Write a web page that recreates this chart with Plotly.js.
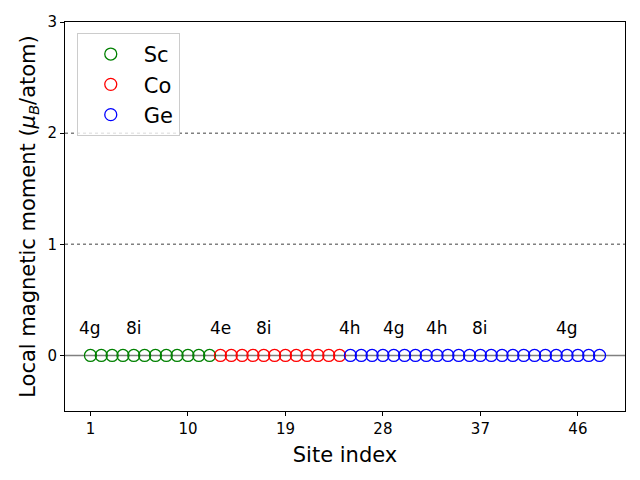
<!DOCTYPE html>
<html>
<head>
<meta charset="utf-8">
<script src="https://cdn.plot.ly/plotly-3.0.1.min.js"></script>
<style>html,body{margin:0;padding:0;background:#fff;}#chart{width:640px;height:480px;}</style>
</head>
<body>
<div id="chart"></div>
<script>
// Data
const scSites = [1,2,3,4,5,6,7,8,9,10,11,12];
const scMoments = [0,0,0,0,0,0,0,0,0,0,0,0];
const coSites = [13,14,15,16,17,18,19,20,21,22,23,24];
const coMoments = [0,0,0,0,0,0,0,0,0,0,0,0];
const geSites = [25,26,27,28,29,30,31,32,33,34,35,36,37,38,39,40,41,42,43,44,45,46,47,48];
const geMoments = [0,0,0,0,0,0,0,0,0,0,0,0,0,0,0,0,0,0,0,0,0,0,0,0];
const wyckoffSites = [1,5,13,17,25,29,33,37,45];
const wyckoffLabels = ["4g","8i","4e","8i","4h","4g","4h","8i","4g"];
const labelY = 0.2;
const refLines = [1,2];
const xTicks = [1,10,19,28,37,46];
const yTicks = [0,1,2,3];

const font = "DejaVu Sans, sans-serif";
function mk(name, x, y, color){
  return {type:'scatter', mode:'markers', name:name, x:x, y:y,
    marker:{symbol:'circle-open', size:12, color:color, line:{width:1.3, color:color}}, cliponaxis:false};
}
const traces = [
  mk('Sc', scSites, scMoments, 'green'),
  mk('Co', coSites, coMoments, 'red'),
  mk('Ge', geSites, geMoments, 'blue')
];

const shapes = [{type:'line', xref:'paper', x0:0, x1:1, yref:'y', y0:0, y1:0,
  line:{color:'gray', width:1.5}, layer:'below'}];
refLines.forEach(v=>shapes.push({type:'line', xref:'paper', x0:0, x1:1, yref:'y', y0:v, y1:v,
  line:{color:'gray', width:1.5, dash:'dot'}, layer:'below'}));

const annotations = wyckoffSites.map((s,i)=>({x:s, y:labelY, xref:'x', yref:'y', text:wyckoffLabels[i],
  showarrow:false, xanchor:'center', yanchor:'bottom', yshift:-7, font:{family:font, size:17, color:'black'}}));

const axisCommon = {showline:true, mirror:true, linecolor:'black', linewidth:1, ticks:'outside',
  ticklen:4, tickcolor:'black', showgrid:false, zeroline:false, tickfont:{family:font, size:15, color:'black'}};

const layout = {
  width:640, height:480, paper_bgcolor:'white', plot_bgcolor:'white',
  margin:{l:65, r:15, t:22, b:69},
  showlegend:true,
  legend:{x:0.021, y:0.972, xanchor:'left', yanchor:'top', bgcolor:'rgba(255,255,255,0.8)',
    bordercolor:'#cccccc', borderwidth:1, itemwidth:56, font:{family:font, size:21, color:'black'}},
  xaxis:Object.assign({}, axisCommon, {range:[-1.35,50.35], tickvals:xTicks,
    title:{text:'Site index', font:{family:font, size:21, color:'black'}, standoff:10}}),
  yaxis:Object.assign({}, axisCommon, {range:[-0.5,3], tickvals:yTicks,
    title:{text:'Local magnetic moment (<i>μ<sub>B</sub></i>/atom)', font:{family:font, size:21, color:'black'}, standoff:6}}),
  shapes:shapes, annotations:annotations
};
Plotly.newPlot('chart', traces, layout, {displayModeBar:false, staticPlot:true});
</script>
</body>
</html>
